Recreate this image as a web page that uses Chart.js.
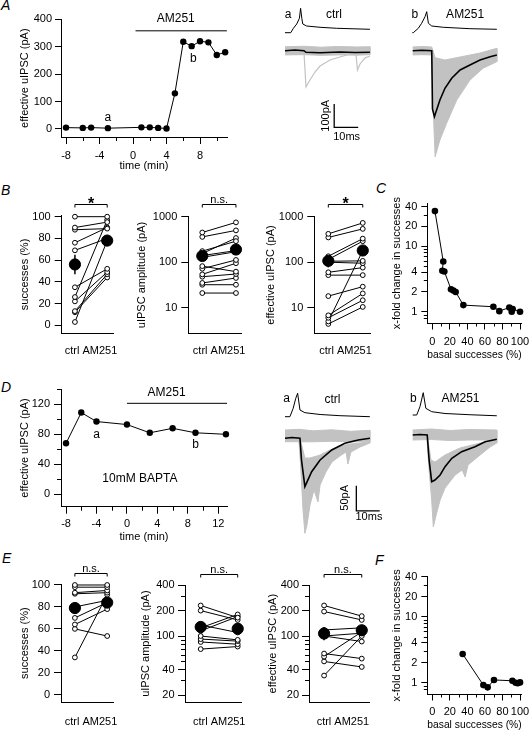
<!DOCTYPE html>
<html>
<head>
<meta charset="utf-8">
<script src="https://cdn.jsdelivr.net/npm/chart.js@4.4.1/dist/chart.umd.min.js"></script>
<style>
html, body { margin: 0; padding: 0; background: #fff; }
#fig { position: relative; width: 529px; height: 731px; overflow: hidden; font-family: "Liberation Sans", Arial, sans-serif; }
#fig canvas { position: absolute; }
.lt { position: absolute; font-size: 14px; line-height: 14px; font-style: italic; color: #000; }
</style>
</head>
<body>
<div id="fig">
  <div class="lt" style="left:1px;top:-2px">A</div>
  <div class="lt" style="left:1px;top:183px">B</div>
  <div class="lt" style="left:376px;top:181px">C</div>
  <div class="lt" style="left:1px;top:380px">D</div>
  <div class="lt" style="left:2px;top:551px">E</div>
  <div class="lt" style="left:375px;top:553px">F</div>
</div>
<script>
// ---- data ----
const groupLabel = 'ctrl AM251';

// A: effective uIPSC of one pair over time
const aTime = [-8, -6, -5, -3, 1, 2, 3, 4, 5, 6, 7, 8, 9, 10, 11];
const aEff = [5, 4, 5, 3, 6, 6, 4, 2, 130, 318, 302, 320, 316, 270, 280];
const aDrug = [0.3, 11.2];

// B: paired values, ctrl -> AM251
const succCtrl = [100, 90, 88, 76, 69, 35, 26, 22, 13, 12, 3];
const succAM = [100, 95, 89, 90, 80, 52, 97, 49, 47, 44, 78];
const succMean = [56, 78];
const succSem = [9, 5];
const ampCtrl = [450, 360, 175, 155, 140, 128, 82, 72, 54, 48, 35, 32, 21];
const ampAM = [750, 500, 290, 340, 180, 170, 62, 112, 95, 55, 45, 32, 21];
const ampMean = [137, 190];
const ampSem = [20, 30];
const effCtrl = [420, 350, 135, 115, 105, 100, 60, 52, 18, 6.8, 6.0, 5.0, 4.4];
const effAM = [730, 540, 330, 290, 107, 95, 76, 52, 29, 20.6, 14.6, 180, 10.4];
const effMean = [107, 181];
const effSem = [30, 40];

// C: fold change vs basal successes
const cBasal = [3, 12.5, 11.4, 13.7, 21.3, 24, 26.6, 35.4, 69.6, 76.4, 87.8, 90.5, 91.6, 100];
const cFold = [34, 5.8, 4.2, 4.1, 2.2, 2.1, 2.0, 1.26, 1.19, 1.02, 1.16, 1.0, 1.1, 1.0];

// D: BAPTA time course
const dTime = [-8, -6, -4, 0, 3, 6, 9, 13];
const dEff = [68, 109, 97, 93, 82, 88, 82, 80];
const dDrug = [0, 13.14];

// E: paired values with BAPTA
const eSuccCtrl = [100, 98, 93, 92, 80, 70, 64, 60, 34];
const eSuccAM = [100, 98, 95, 93, 86, 84, 78, 53.5, 91];
const eSuccMean = [79, 84];
const eSuccSem = [5, 4];
const eAmpCtrl = [230, 200, 135, 125, 115, 100, 92, 85, 70];
const eAmpAM = [165, 155, 110, 180, 170, 90, 87, 80, 75];
const eAmpMean = [128, 122];
const eAmpSem = [12, 10];
const eEffCtrl = [230, 195, 118, 100, 100, 62, 57, 50, 34];
const eEffAM = [172, 155, 125, 108, 86, 54, 112, 43, 100];
const eEffMean = [107, 117];
const eEffSem = [18, 15];

// F
const fBasal = [34.6, 58.2, 63.1, 70.3, 91.3, 95, 97.3, 100];
const fFold = [2.72, 0.92, 0.85, 1.10, 1.07, 1.0, 0.98, 1.01];

// example traces, [ms, pA] (pre: [ms, mV])
const aPre = [[0,-65],[2.4,-65],[3.5,-47.8],[4.9,-31],[6.0,-8.8],[6.5,30.2],[7.0,-8.8],[7.4,-31],[9.0,-38.9],[14.6,-43.9],[21.5,-47.8],[35.4,-51.7]];
const aMean = [[0,0],[4.2,3],[7.9,0],[8.75,-6.9],[14.6,-8.6],[22.9,-5.6],[29.2,-7.7],[35.4,-6.9]];
const aNoiseTop = [[0,17],[8,19],[15,15],[22,18],[30,16],[35.4,17]];
const aNoiseBot = [[0,-18],[8,-17],[15,-20],[22,-18],[30,-19],[35.4,-17]];
const aHit1 = [[7.9,-5.6],[8.75,-155.7],[10.4,-125.7],[12.5,-91.4],[14.6,-65.6],[18.75,-40],[22.9,-27],[25.8,-18.4]];
const aHit2 = [[29.6,-18.4],[30.2,-82.8],[31.25,-57],[33.3,-31.3],[35.4,-22.7]];

const bPre = [[0,-65],[0.4,-65],[2.5,-47.8],[3.9,-28.3],[5.3,-2.6],[6.0,16.9],[6.7,-28.3],[8.1,-38.9],[12.9,-43.9],[24.0,-49.4],[35.2,-51.7]];
const bMean = [[0.17,0],[4,2],[8.1,0],[8.4,-250],[9.2,-283],[11.5,-211.5],[13.6,-161.3],[16.4,-118.4],[19.9,-82.8],[24.0,-61.3],[28.2,-39.9],[32.4,-25.7],[35.2,-18.4]];
const bBandTop = [[0.17,16],[4,18],[8.1,16],[9.5,-30],[13.6,-40],[19.9,-27],[28.2,-10],[35.2,10]];
const bBandBot = [[0.17,-18],[4,-17],[8.1,-18],[8.75,-260],[9.5,-455],[11.5,-383],[14.3,-311],[18.5,-212],[24,-126],[29.5,-75],[35.2,-47]];

const daPre = [[0,-65],[2.1,-65],[3.5,-32.2],[4.6,6.8],[5.4,26.3],[6.4,-38.9],[8.5,-49.4],[15,-56.4],[23.5,-61.1],[36.3,-65]];
const daMean = [[0,0],[3,1.6],[6.4,0],[7.05,-43.4],[8.5,-96.8],[11.4,-66.8],[15,-43.4],[20,-23.4],[25.6,-10],[31.3,-3.4],[36.3,0]];
const daNoiseTop = [[0,16.6],[6,18],[12,15],[20,17],[28,14],[36.3,16]];
const daNoiseBot = [[0,-6.8],[6,-7],[12,-7],[20,-6],[28,-7],[36.3,-6.8]];
const daHitTop = [[6.0,-7.4],[6.8,-7.4],[8.5,-39.4],[10.7,-39.4],[15,-33.4],[19.2,-23.4],[23.5,-15.4],[27.8,-11.4],[36.3,-7.4]];
const daHitBot = [[6.0,-7.4],[6.8,-63.4],[7.7,-143.4],[8.5,-190],[9.4,-173.4],[10.7,-133.4],[12.4,-103.4],[14.1,-127.4],[15,-93.4],[17.5,-67.4],[20.1,-47.4],[23.5,-35.4],[26.1,-27.4],[26.9,-51.4],[28.2,-27.4],[32.1,-17.4],[36.3,-9.4]];

const dbPre = [[0,-65],[1.7,-65],[3.1,-32.6],[4.5,22],[5.6,-38.9],[8.1,-52.1],[13.8,-59.2],[24.5,-64],[35.9,-68]];
const dbMean = [[0,0],[3.1,1],[6.2,0],[7,-50],[8.1,-93.4],[9.5,-90],[11.7,-80],[13.8,-63.4],[16.7,-46.6],[20.9,-33.4],[26.6,-23.4],[30.9,-13.4],[35.9,-8.6]];
const dbNoiseTop = [[0,10],[8,12],[16,9],[24,11],[35.9,10]];
const dbNoiseBot = [[0,-10],[8,-9],[16,-11],[24,-10],[35.9,-10]];
const dbHitTop = [[6.1,-10],[6.5,-10],[7.8,-50],[9.5,-54],[13.8,-40],[20.2,-26],[28.8,-16],[35.9,-10]];
const dbHitBot = [[6.1,-10],[7,-70],[8.1,-130],[8.8,-184],[10,-160],[11.7,-130],[13.8,-106],[18.1,-80],[21.1,-70],[22.4,-84],[23.6,-60],[28.8,-40],[33,-24],[35.9,-16]];

// ---- setup ----
Chart.defaults.font.family = '"Liberation Sans", Arial, sans-serif';
Chart.defaults.font.size = 11;
Chart.defaults.color = '#000';
Chart.defaults.animation = false;

const gray = '#c2c2c2';
const FONT = '"Liberation Sans", Arial, sans-serif';

// text, lines and brackets placed through the chart's own scales
const notesPlugin = {
  id: 'notes',
  afterDatasetsDraw(chart, args, opts) {
    const ctx = chart.ctx, area = chart.chartArea;
    (opts.items || []).forEach(n => {
      const xs = chart.scales.x, ys = chart.scales[n.axis || 'y'];
      ctx.save();
      ctx.strokeStyle = '#000';
      ctx.fillStyle = '#000';
      ctx.lineWidth = n.lw || 1;
      if (n.path) {
        ctx.beginPath();
        n.path.forEach((p, i) => {
          const px = xs.getPixelForValue(p[0]), py = ys.getPixelForValue(p[1]);
          if (i) ctx.lineTo(px, py); else ctx.moveTo(px, py);
        });
        ctx.stroke();
      } else if (n.bracket) {
        const x0 = xs.getPixelForValue(n.bracket[0]), x1 = xs.getPixelForValue(n.bracket[1]);
        const y = Math.round(area.top - n.above) + 0.5;
        ctx.beginPath();
        ctx.moveTo(x0, y + 3); ctx.lineTo(x0, y); ctx.lineTo(x1, y); ctx.lineTo(x1, y + 3);
        ctx.stroke();
        ctx.font = (n.weight || '') + ' ' + (n.size || 11) + 'px ' + FONT;
        ctx.textAlign = 'center';
        ctx.textBaseline = 'alphabetic';
        ctx.fillText(n.text, (x0 + x1) / 2, y + n.ty);
      } else if (n.text) {
        ctx.font = (n.size || 12) + 'px ' + FONT;
        ctx.textAlign = 'center';
        ctx.textBaseline = 'middle';
        ctx.translate(xs.getPixelForValue(n.x), ys.getPixelForValue(n.y));
        if (n.rot) ctx.rotate(n.rot);
        ctx.fillText(n.text, 0, 0);
      }
      ctx.restore();
    });
  }
};

// short unlabeled ticks
const minorPlugin = {
  id: 'minor',
  afterDraw(chart, args, opts) {
    if (!opts.len) return;
    const ctx = chart.ctx, a = chart.chartArea;
    ctx.save();
    ctx.strokeStyle = '#000';
    ctx.lineWidth = 1;
    ctx.beginPath();
    (opts.x || []).forEach(v => {
      const p = Math.round(chart.scales.x.getPixelForValue(v)) + 0.5;
      ctx.moveTo(p, a.bottom); ctx.lineTo(p, a.bottom + opts.len);
    });
    (opts.y || []).forEach(v => {
      const p = Math.round(chart.scales.y.getPixelForValue(v)) + 0.5;
      ctx.moveTo(a.left - opts.len, p); ctx.lineTo(a.left, p);
    });
    ctx.stroke();
    ctx.restore();
  }
};
Chart.register(notesPlugin, minorPlugin);

function place(left, top, width, height) {
  const c = document.createElement('canvas');
  c.width = width; c.height = height;
  c.style.left = left + 'px'; c.style.top = top + 'px';
  c.style.width = width + 'px'; c.style.height = height + 'px';
  document.getElementById('fig').appendChild(c);
  return c;
}

const pts = arr => arr.map(p => ({x: p[0], y: p[1]}));
const xy = (xs, ys) => xs.map((v, i) => ({x: v, y: ys[i]}));

function makeAxis(a, horiz, size, tpad) {
  return {
    type: a.type || 'linear',
    min: a.min,
    max: a.max,
    afterBuildTicks: s => { s.ticks = a.ticks.map(v => ({value: v})); },
    afterFit: s => {
      if (horiz) s.height = size; else s.width = size;
      s.paddingLeft = s.paddingRight = s.paddingTop = s.paddingBottom = 0;
    },
    grid: {drawOnChartArea: false, drawTicks: a.tick > 0, tickLength: a.tick || 0, color: '#000', tickColor: '#000', lineWidth: 1},
    border: {display: true, color: '#000', width: 1},
    ticks: {padding: a.pad, autoSkip: false, maxRotation: 0, minRotation: 0,
            color: '#000', font: {size: 11}, callback: a.label || (v => String(v))},
    title: {display: !!a.title, text: a.title || '', color: '#000', font: {size: 11},
            padding: horiz ? {top: 0, bottom: tpad} : {top: tpad, bottom: 0}}
  };
}

// box = plot area in page pixels
function axisChart(box, xa, ya, datasets, notes, minor) {
  const half = 11 * 1.2 / 2;
  const left = Math.round(ya.titleX - 8);
  const top = Math.round(box.t - (box.padT || 10));
  const bottom = Math.round(xa.titleY ? xa.titleY + 8 : box.b + xa.space);
  const right = Math.round(box.r + (box.padR || 8));
  const canvas = place(left, top, right - left, bottom - top);
  return new Chart(canvas, {
    type: 'line',
    data: {datasets: datasets},
    options: {
      responsive: false,
      animation: false,
      layout: {padding: {left: 0, top: box.t - top, right: right - box.r, bottom: 0}},
      scales: {
        x: makeAxis(xa, true, bottom - box.b, xa.titleY ? bottom - xa.titleY - half : 0),
        y: makeAxis(ya, false, box.l - left, ya.titleX - left - half)
      },
      plugins: {legend: {display: false}, tooltip: {enabled: false}, notes: {items: notes || []}, minor: minor || {}}
    }
  });
}

function timeSet(xs, ys) {
  return [{data: xy(xs, ys), borderColor: '#000', borderWidth: 1, pointRadius: 3.2,
           pointBackgroundColor: '#000', pointBorderColor: '#000', pointBorderWidth: 0, clip: false}];
}

function pairSets(ctrl, am, mean, sem) {
  const sets = ctrl.map((c, i) => ({
    data: [{x: 0, y: c}, {x: 1, y: am[i]}], borderColor: '#000', borderWidth: 1,
    pointRadius: 2.4, pointBackgroundColor: '#fff', pointBorderColor: '#000', pointBorderWidth: 1,
    order: 2, clip: false
  }));
  [0, 1].forEach(g => sets.push({
    data: [{x: g, y: mean[g] - sem[g]}, {x: g, y: mean[g] + sem[g]}], borderColor: '#000', borderWidth: 1.5,
    pointRadius: 0, order: 1, clip: false
  }));
  sets.push({data: [{x: 0, y: mean[0]}, {x: 1, y: mean[1]}], showLine: false, pointRadius: 5.6,
             pointBackgroundColor: '#000', pointBorderColor: '#000', order: 0, clip: false});
  return sets;
}

function foldSet(xs, ys) {
  return [{data: xy(xs, ys), borderColor: '#000', borderWidth: 1, pointRadius: 3.3,
           pointBackgroundColor: '#000', pointBorderColor: '#000', pointBorderWidth: 0, clip: false}];
}

// one label tick between the two groups, no tick mark
const catAxis = (min, max, pad, space) => ({min: min, max: max, ticks: [0.5], tick: 0, pad: pad,
                                            label: () => groupLabel, space: space});
const logMinor = {y: [0.8, 0.9, 3, 5, 6, 7, 8, 9, 30], x: [10, 30, 50, 70, 90], len: 3.5};

// ---- A ----
axisChart({l: 61, t: 19.3, r: 227, b: 137, padT: 14},
  {min: -8.6, max: 11.22, ticks: [-8, -4, 0, 4, 8], tick: 7, pad: 5, title: 'time (min)', titleY: 165.7},
  {min: -29.2, max: 400, ticks: [0, 100, 200, 300, 400], tick: 6, pad: 3, title: 'effective uIPSC (pA)', titleX: 25},
  timeSet(aTime, aEff),
  [{text: 'a', x: -3, y: 42}, {text: 'b', x: 7.2, y: 258}, {text: 'AM251', x: 5.1, y: 401},
   {path: [[aDrug[0], 358], [aDrug[1], 358]]}],
  {x: [-6, -2, 2, 6, 10], len: 4});

// ---- B ----
axisChart({l: 61.7, t: 215.6, r: 113, b: 333.3, padT: 22},
  catAxis(-0.41, 1.18, 11, 28),
  {min: -7.4, max: 101, ticks: [0, 20, 40, 60, 80, 100], tick: 7, pad: 4, title: 'successes (%)', titleX: 25},
  pairSets(succCtrl, succAM, succMean, succSem),
  [{bracket: [0, 1], above: 11.3, text: '*', size: 16, weight: 'bold', ty: 4}]);

axisChart({l: 188.3, t: 216.7, r: 241.7, b: 333.3, padT: 22},
  catAxis(-0.415, 1.17, 11, 28),
  {type: 'logarithmic', min: 2.74, max: 1000, ticks: [10, 100, 1000], tick: 7, pad: 4, title: 'uIPSC amplitude (pA)', titleX: 142},
  pairSets(ampCtrl, ampAM, ampMean, ampSem),
  [{bracket: [0, 1], above: 12.4, text: 'n.s.', size: 11, ty: -1.5}]);

axisChart({l: 314.3, t: 216.7, r: 370, b: 333.3, padT: 22},
  catAxis(-0.407, 1.21, 11, 28),
  {type: 'logarithmic', min: 2.74, max: 1000, ticks: [10, 100, 1000], tick: 7, pad: 4, title: 'effective uIPSC (pA)', titleX: 271},
  pairSets(effCtrl, effAM, effMean, effSem),
  [{bracket: [0, 1], above: 12.4, text: '*', size: 16, weight: 'bold', ty: 4}]);

// ---- C ----
axisChart({l: 427.3, t: 203.3, r: 521.7, b: 323},
  {min: -5.7, max: 101.9, ticks: [0, 20, 40, 60, 80, 100], tick: 6.5, pad: 5.5, title: 'basal successes (%)', titleY: 355},
  {type: 'logarithmic', min: 0.673, max: 44.7, ticks: [1, 2, 4, 10, 20, 40], tick: 6, pad: 4, title: 'x-fold change in successes', titleX: 396.7},
  foldSet(cBasal, cFold), [], logMinor);

// ---- D ----
axisChart({l: 61, t: 389.3, r: 227, b: 506.7, padT: 12},
  {min: -8.66, max: 13.14, ticks: [-8, -4, 0, 4, 8, 12], tick: 7, pad: 4, title: 'time (min)', titleY: 536.7},
  {min: -16.5, max: 140, ticks: [0, 40, 80, 120], tick: 7, pad: 4, title: 'effective uIPSC (pA)', titleX: 25},
  timeSet(dTime, dEff),
  [{text: 'a', x: -4, y: 80}, {text: 'b', x: 9, y: 66.7}, {text: 'AM251', x: 5.2, y: 135.5},
   {text: '10mM BAPTA', x: 1.7, y: 21.3}, {path: [[dDrug[0], 121.3], [dDrug[1], 121.3]]}],
  {x: [-6, -2, 2, 6, 10], y: [20, 60, 100, 140], len: 4});

// ---- E ----
axisChart({l: 61, t: 584, r: 113, b: 702.3, padT: 22},
  catAxis(-0.43, 1.18, 12.8, 29),
  {min: -6.9, max: 100.9, ticks: [0, 20, 40, 60, 80, 100], tick: 7, pad: 4, title: 'successes (%)', titleX: 25},
  pairSets(eSuccCtrl, eSuccAM, eSuccMean, eSuccSem),
  [{bracket: [0, 1], above: 10.7, text: 'n.s.', size: 11, ty: -1.5}]);

axisChart({l: 185, t: 585, r: 241.7, b: 702.3, padT: 22},
  catAxis(-0.424, 1.108, 12.8, 29),
  {type: 'logarithmic', min: 16.4, max: 402, ticks: [20, 40, 100, 200, 400], tick: 7, pad: 3.5, title: 'uIPSC amplitude (pA)', titleX: 146},
  pairSets(eAmpCtrl, eAmpAM, eAmpMean, eAmpSem),
  [{bracket: [0, 1], above: 10.7, text: 'n.s.', size: 11, ty: -1.5}],
  {y: [30, 50, 60, 70, 80, 90, 300], len: 4});

axisChart({l: 309, t: 585, r: 369.3, b: 702.3, padT: 22},
  catAxis(-0.40, 1.2, 12.8, 29),
  {type: 'logarithmic', min: 16.4, max: 402, ticks: [20, 40, 100, 200, 400], tick: 7, pad: 3, title: 'effective uIPSC (pA)', titleX: 273},
  pairSets(eEffCtrl, eEffAM, eEffMean, eEffSem),
  [{bracket: [0, 1], above: 10.7, text: 'n.s.', size: 11, ty: -1.5}],
  {y: [30, 50, 60, 70, 80, 90, 300], len: 4});

// ---- F ----
axisChart({l: 427.3, t: 576.7, r: 521.7, b: 694},
  {min: -5.7, max: 101.9, ticks: [0, 20, 40, 60, 80, 100], tick: 6.5, pad: 5.2, title: 'basal successes (%)', titleY: 725},
  {type: 'logarithmic', min: 0.674, max: 40.4, ticks: [1, 2, 4, 10, 20, 40], tick: 6, pad: 4, title: 'x-fold change in successes', titleX: 396.7},
  foldSet(fBasal, fFold), [], logMinor);

// ---- example traces ----
function line(arr, color, w, axis, order) {
  return {data: pts(arr), borderColor: color, borderWidth: w, pointRadius: 0, yAxisID: axis || 'y', order: order, clip: false};
}
function band(top, bot) {
  return {data: pts(top.concat(bot.slice().reverse())), borderColor: gray, backgroundColor: gray, borderWidth: 1,
          pointRadius: 0, fill: 'shape', order: 3, clip: false};
}
function traceChart(left, top, width, height, xr, yr, y2r, datasets, notes) {
  const canvas = place(left, top, width, height);
  return new Chart(canvas, {
    type: 'line',
    data: {datasets: datasets},
    options: {
      responsive: false,
      animation: false,
      layout: {padding: 0},
      scales: {
        x: {type: 'linear', display: false, min: xr[0], max: xr[1]},
        y: {display: false, min: yr[0], max: yr[1]},
        y2: {display: false, min: y2r[0], max: y2r[1]}
      },
      plugins: {legend: {display: false}, tooltip: {enabled: false}, notes: {items: notes}}
    }
  });
}

traceChart(280, 0, 105, 170, [-2.083, 41.67], [-511.8, 217.5], [-600.5, 62.5],
  [line(aPre, '#000', 1, 'y2', 0), line(aMean, '#000', 1.6, 'y', 0),
   line(aHit1, gray, 1.2, 'y', 2), line(aHit2, gray, 1.2, 'y', 2), band(aNoiseTop, aNoiseBot)],
  [{text: 'a', x: 1.25, y: 153}, {text: 'ctrl', x: 20.4, y: 155},
   {path: [[20.5, -228.6], [20.5, -328.6], [30.5, -328.6]], lw: 1.3},
   {text: '100pA', x: 17.2, y: -279, size: 11, rot: -Math.PI / 2}, {text: '10ms', x: 25.7, y: -369, size: 11}]);

traceChart(405, 0, 100, 170, [-3.04, 38.6], [-511.8, 217.5], [-600.5, 62.5],
  [line(bPre, '#000', 1, 'y2', 0), line(bMean, '#000', 1.6, 'y', 0), band(bBandTop, bBandBot)],
  [{text: 'b', x: 1.04, y: 153}, {text: 'AM251', x: 22, y: 153}]);

traceChart(280, 385, 110, 160, [-2.14, 44.9], [-213.4, 106.6], [-565.4, 58.6],
  [line(daPre, '#000', 1, 'y2', 0), line(daMean, '#000', 1.6, 'y', 0),
   band(daHitTop, daHitBot), band(daNoiseTop, daNoiseBot)],
  [{text: 'a', x: 0.7, y: 80}, {text: 'ctrl', x: 20.3, y: 78},
   {path: [[30.5, -95], [30.5, -145], [40.5, -145]], lw: 1.3},
   {text: '50pA', x: 25.6, y: -119, size: 11, rot: -Math.PI / 2}, {text: '10ms', x: 35.9, y: -158, size: 11}]);

traceChart(405, 385, 100, 160, [-3.29, 39.4], [-220, 100], [-572, 52],
  [line(dbPre, '#000', 1, 'y2', 0), line(dbMean, '#000', 1.6, 'y', 0),
   band(dbHitTop, dbHitBot), band(dbNoiseTop, dbNoiseBot)],
  [{text: 'b', x: 0.27, y: 73.4}, {text: 'AM251', x: 20.4, y: 73.4}]);
</script>
</body>
</html>
